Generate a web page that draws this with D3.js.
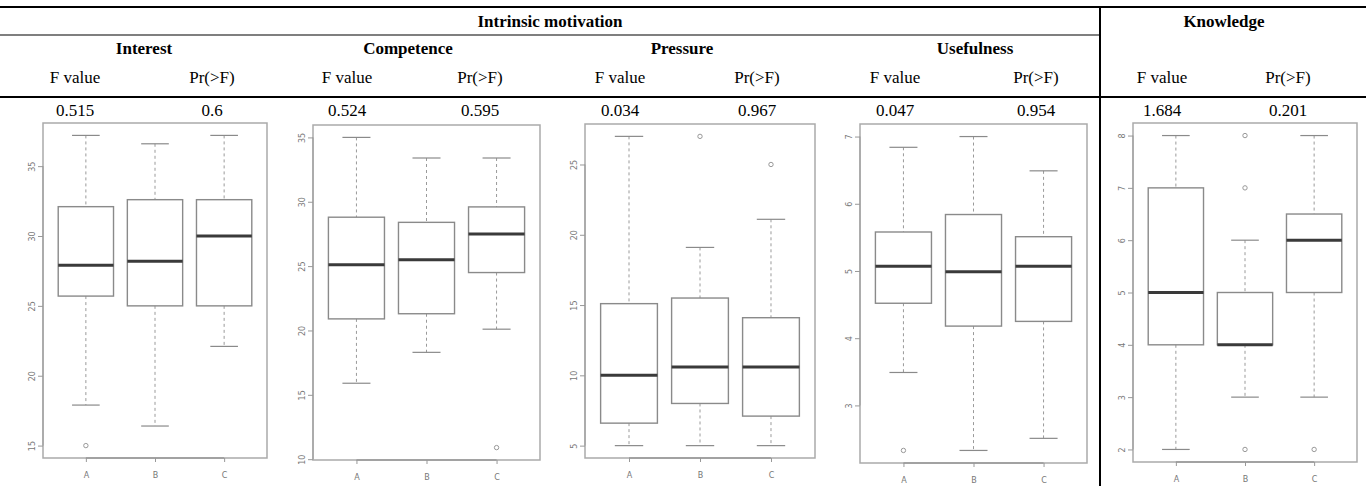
<!DOCTYPE html>
<html lang="en">
<head>
<meta charset="UTF-8">
<title>Intrinsic motivation and knowledge boxplots</title>
<script src="https://d3js.org/d3.v7.min.js"></script>
<style>
  body { margin: 0; background: #fff; }
  svg { display: block; }
  .hdr { font-family: "Liberation Serif", "Times New Roman", serif; font-size: 17px; fill: #000; }
  .hdr.bold { font-weight: bold; }
  .axis text { font-family: "DejaVu Sans", sans-serif; font-size: 8px; fill: #777; }
  .axis line { stroke: #999; }
</style>
</head>
<body>
<svg width="1366" height="486"></svg>
<script>
// table values
const scaleNames = ['Interest', 'Competence', 'Pressure', 'Usefulness', 'Knowledge'];
const fValues = ['0.515', '0.524', '0.034', '0.047', '1.684'];
const pValues = ['0.6', '0.595', '0.967', '0.954', '0.201'];
const categories = ['A', 'B', 'C'];

// [lower whisker, Q1, median, Q3, upper whisker] for A, B, C
const interestStats = [[17.9, 25.7, 27.9, 32.1, 37.2], [16.4, 25.0, 28.2, 32.6, 36.6], [22.1, 25.0, 30.0, 32.6, 37.2]];
const interestOut = [[15], [], []];
const interestTicks = [15, 20, 25, 30, 35];

const competenceStats = [[15.9, 20.9, 25.1, 28.8, 35.0], [18.3, 21.3, 25.5, 28.4, 33.4], [20.1, 24.5, 27.5, 29.6, 33.4]];
const competenceOut = [[], [], [10.9]];
const competenceTicks = [10, 15, 20, 25, 30, 35];

const pressureStats = [[5, 6.6, 10.0, 15.1, 27.0], [5, 8.0, 10.6, 15.5, 19.1], [5, 7.1, 10.6, 14.1, 21.1]];
const pressureOut = [[], [27], [25]];
const pressureTicks = [5, 10, 15, 20, 25];

const usefulnessStats = [[3.49, 4.52, 5.07, 5.58, 6.84], [2.33, 4.18, 4.99, 5.84, 7.0], [2.51, 4.25, 5.07, 5.51, 6.49]];
const usefulnessOut = [[2.33], [], []];
const usefulnessTicks = [3, 4, 5, 6, 7];

const knowledgeStats = [[2, 4, 5, 7, 8], [3, 4, 4, 5, 6], [3, 5, 6, 6.5, 8]];
const knowledgeOut = [[], [8, 7, 2], [2]];
const knowledgeTicks = [2, 3, 4, 5, 6, 7, 8];

// layout of the table
const headerX = [144, 408, 682, 975, 1224];
const fX = [75, 347, 620, 895, 1162];
const pX = [212, 480, 757, 1036, 1288];

const panels = [
  { stats: interestStats, out: interestOut, ticks: interestTicks, x0: 43, x1: 267, y0: 123, y1: 458 },
  { stats: competenceStats, out: competenceOut, ticks: competenceTicks, x0: 313, x1: 540, y0: 125, y1: 460 },
  { stats: pressureStats, out: pressureOut, ticks: pressureTicks, x0: 585, x1: 815, y0: 124, y1: 458 },
  { stats: usefulnessStats, out: usefulnessOut, ticks: usefulnessTicks, x0: 860, x1: 1087, y0: 124, y1: 463 },
  { stats: knowledgeStats, out: knowledgeOut, ticks: knowledgeTicks, x0: 1133, x1: 1357, y0: 123, y1: 462 }
];

const svg = d3.select('svg');

// table rules
svg.append('line').attr('x1', 0).attr('x2', 1366).attr('y1', 7).attr('y2', 7)
  .attr('stroke', '#000').attr('stroke-width', 2);
svg.append('line').attr('x1', 0).attr('x2', 1100).attr('y1', 35).attr('y2', 35)
  .attr('stroke', '#000').attr('stroke-width', 1.2);
svg.append('line').attr('x1', 0).attr('x2', 1366).attr('y1', 97).attr('y2', 97)
  .attr('stroke', '#000').attr('stroke-width', 2);
svg.append('line').attr('x1', 1100).attr('x2', 1100).attr('y1', 6).attr('y2', 486)
  .attr('stroke', '#000').attr('stroke-width', 2);

svg.append('text').attr('class', 'hdr bold').attr('x', 550).attr('y', 27)
  .attr('text-anchor', 'middle').text('Intrinsic motivation');

svg.selectAll('.name')
  .data(scaleNames)
  .enter()
  .append('text')
  .attr('class', 'hdr bold name')
  .attr('x', (d, i) => headerX[i])
  .attr('y', (d, i) => i === 4 ? 27 : 54)
  .attr('text-anchor', 'middle')
  .text(d => d);

svg.selectAll('.fhead')
  .data(fX)
  .enter()
  .append('text')
  .attr('class', 'hdr fhead')
  .attr('x', d => d).attr('y', 83)
  .attr('text-anchor', 'middle')
  .text('F value');

svg.selectAll('.phead')
  .data(pX)
  .enter()
  .append('text')
  .attr('class', 'hdr phead')
  .attr('x', d => d).attr('y', 83)
  .attr('text-anchor', 'middle')
  .text('Pr(>F)');

svg.selectAll('.fval')
  .data(fValues)
  .enter()
  .append('text')
  .attr('class', 'hdr fval')
  .attr('x', (d, i) => fX[i]).attr('y', 116)
  .attr('text-anchor', 'middle')
  .text(d => d);

svg.selectAll('.pval')
  .data(pValues)
  .enter()
  .append('text')
  .attr('class', 'hdr pval')
  .attr('x', (d, i) => pX[i]).attr('y', 116)
  .attr('text-anchor', 'middle')
  .text(d => d);

// boxplots, drawn like R's boxplot()
panels.forEach(p => {
  const g = svg.append('g');
  const x = d3.scaleLinear().domain([0.38, 3.62]).range([p.x0, p.x1]);
  const all = p.stats.flat().concat(p.out.flat());
  const [lo, hi] = d3.extent(all);
  const pad = (hi - lo) * 0.04;
  const y = d3.scaleLinear().domain([lo - pad, hi + pad]).range([p.y1, p.y0]);

  const groups = g.selectAll('.grp')
    .data(p.stats)
    .enter()
    .append('g')
    .attr('class', 'grp');

  const half = x(1.4) - x(1);
  const cap = x(1.2) - x(1);

  // whiskers
  groups.append('line')
    .attr('x1', (d, i) => x(i + 1)).attr('x2', (d, i) => x(i + 1))
    .attr('y1', d => y(d[4])).attr('y2', d => y(d[3]))
    .attr('stroke', '#9a9a9a').attr('stroke-dasharray', '3,3');
  groups.append('line')
    .attr('x1', (d, i) => x(i + 1)).attr('x2', (d, i) => x(i + 1))
    .attr('y1', d => y(d[1])).attr('y2', d => y(d[0]))
    .attr('stroke', '#9a9a9a').attr('stroke-dasharray', '3,3');
  // caps
  groups.append('line')
    .attr('x1', (d, i) => x(i + 1) - cap).attr('x2', (d, i) => x(i + 1) + cap)
    .attr('y1', d => y(d[4])).attr('y2', d => y(d[4]))
    .attr('stroke', '#8a8a8a').attr('stroke-width', 1.2);
  groups.append('line')
    .attr('x1', (d, i) => x(i + 1) - cap).attr('x2', (d, i) => x(i + 1) + cap)
    .attr('y1', d => y(d[0])).attr('y2', d => y(d[0]))
    .attr('stroke', '#8a8a8a').attr('stroke-width', 1.2);
  // box
  groups.append('rect')
    .attr('x', (d, i) => x(i + 1) - half)
    .attr('width', half * 2)
    .attr('y', d => y(d[3]))
    .attr('height', d => y(d[1]) - y(d[3]))
    .attr('fill', 'none').attr('stroke', '#8a8a8a').attr('stroke-width', 1.4);
  // median
  groups.append('line')
    .attr('x1', (d, i) => x(i + 1) - half).attr('x2', (d, i) => x(i + 1) + half)
    .attr('y1', d => y(d[2])).attr('y2', d => y(d[2]))
    .attr('stroke', '#3a3a3a').attr('stroke-width', 3);

  // outliers
  p.out.forEach((vals, i) => {
    g.selectAll(null)
      .data(vals)
      .enter()
      .append('circle')
      .attr('cx', x(i + 1)).attr('cy', d => y(d)).attr('r', 2.2)
      .attr('fill', 'none').attr('stroke', '#999');
  });

  // frame
  g.append('rect')
    .attr('x', p.x0).attr('y', p.y0)
    .attr('width', p.x1 - p.x0).attr('height', p.y1 - p.y0)
    .attr('fill', 'none').attr('stroke', '#aaa').attr('stroke-width', 1.5);

  // y axis
  const ya = g.append('g').attr('class', 'axis')
    .attr('transform', `translate(${p.x0},0)`)
    .call(d3.axisLeft(y).tickValues(p.ticks).tickSize(5).tickSizeOuter(0).tickFormat(d3.format('d')));
  ya.select('.domain').remove();
  ya.append('line')
    .attr('y1', y(p.ticks[0])).attr('y2', y(p.ticks[p.ticks.length - 1]))
    .attr('stroke', '#aaa');
  ya.selectAll('text')
    .attr('x', 0).attr('y', -8).attr('dy', 0)
    .attr('text-anchor', 'middle')
    .attr('transform', 'rotate(-90)');

  // x axis
  const xa = g.append('g').attr('class', 'axis')
    .attr('transform', `translate(0,${p.y1})`)
    .call(d3.axisBottom(x).tickValues([1, 2, 3]).tickSize(4).tickSizeOuter(0)
      .tickFormat(d => categories[d - 1]));
  xa.select('.domain').remove();
  xa.append('line').attr('x1', x(1)).attr('x2', x(3)).attr('stroke', '#aaa').attr('stroke-width', 1.5);
  xa.selectAll('text').attr('y', 14).attr('font-size', '9px');
});
</script>
</body>
</html>
